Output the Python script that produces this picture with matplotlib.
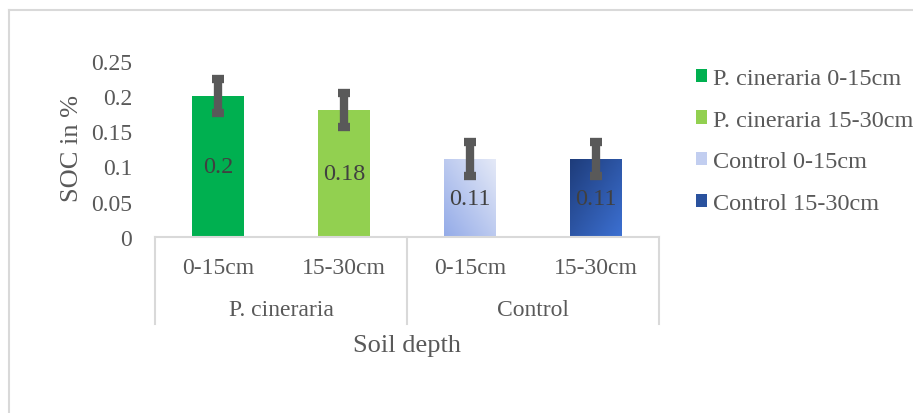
import numpy as np
import matplotlib
matplotlib.use('Agg')
import matplotlib.pyplot as plt
from matplotlib.patches import Patch
from matplotlib.lines import Line2D
from matplotlib.colors import LinearSegmentedColormap

groups = ['P. cineraria', 'Control']
depths = ['0-15cm', '15-30cm', '0-15cm', '15-30cm']
series = ['P. cineraria 0-15cm', 'P. cineraria 15-30cm', 'Control 0-15cm', 'Control 15-30cm']
soc = [0.2, 0.18, 0.11, 0.11]
err = [0.024, 0.024, 0.024, 0.024]
yticks = [0, 0.05, 0.1, 0.15, 0.2, 0.25]
ytick_labels = ['0', '0.05', '0.1', '0.15', '0.2', '0.25']

plt.rcParams['font.family'] = ['Liberation Serif', 'DejaVu Serif']
gray = '#595959'
line_gray = '#D9D9D9'
fs = 17

W, H = 913, 414
fig = plt.figure(figsize=(W / 100, H / 100), dpi=100)
ax_l, ax_r, ax_t, ax_b = 155, 659, 61.5, 238
ax = fig.add_axes([ax_l / W, 1 - ax_b / H, (ax_r - ax_l) / W, (ax_b - ax_t) / H])
ax_h = ax_b - ax_t

x = np.arange(len(soc))
# solid colours; gradient (dark/saturated end, light end) for the control bars
fills = ['#00B050', '#92D050', ('#94ABE8', '#E4E9F7'), ('#1E3C7A', '#3C70D2')]
legend_cols = ['#00B050', '#92D050', '#C2CEF0', '#2A529E']

bars = ax.bar(x, soc, width=0.41, color=[f if isinstance(f, str) else 'none' for f in fills],
              zorder=2)
gx, gy = np.meshgrid(np.linspace(0, 1, 64), np.linspace(0, 1, 64))
grad = (gx + gy) / 2
for i, (b, f) in enumerate(zip(bars, fills)):
    if isinstance(f, tuple):
        cmap = LinearSegmentedColormap.from_list('g', list(f))
        bx, by = b.get_x(), b.get_y()
        # control 0-15: bottom-left -> top-right; control 15-30: top-left -> bottom-right
        im = ax.imshow(grad, cmap=cmap, origin='lower' if i == 2 else 'upper',
                       extent=[bx, bx + b.get_width(), by, by + b.get_height()],
                       aspect='auto', zorder=2)
        im.set_clip_path(b)

ax.errorbar(x, soc, yerr=err, fmt='none', ecolor=gray, elinewidth=6,
            capsize=4.3, capthick=6, zorder=3, clip_on=False)

for xi, v in zip(x, soc):
    ax.text(xi, v / 2, f'{v:g}', ha='center', va='center', fontsize=17.5,
            color='#404040', zorder=4)

ax.set_xlim(-0.5, 3.5)
ax.set_ylim(0, 0.25)
ax.set_yticks(yticks)
ax.set_yticklabels(ytick_labels)
ax.tick_params(axis='y', length=0, pad=16.5, labelsize=fs, labelcolor=gray)
ax.set_xticks([])
for s in ['top', 'right', 'left']:
    ax.spines[s].set_visible(False)
ax.spines['bottom'].set_color(line_gray)
ax.spines['bottom'].set_linewidth(1.5)

# multi-level category axis
box_depth = 87 / ax_h
for xv in [-0.5, 1.5, 3.5]:
    ax.plot([xv, xv], [0, -box_depth], color=line_gray, lw=1.5,
            transform=ax.get_xaxis_transform(), clip_on=False)
for xi, d in zip(x, depths):
    ax.annotate(d, xy=(xi, 0), xycoords=('data', 'axes fraction'),
                xytext=(0, -30), textcoords='offset pixels',
                ha='center', va='center', fontsize=fs, color=gray)
for gi, g in enumerate(groups):
    ax.annotate(g, xy=(gi * 2 + 0.5, 0), xycoords=('data', 'axes fraction'),
                xytext=(0, -72), textcoords='offset pixels',
                ha='center', va='center', fontsize=fs, color=gray)
ax.annotate('Soil depth', xy=(1.5, 0), xycoords=('data', 'axes fraction'),
            xytext=(0, -108), textcoords='offset pixels',
            ha='center', va='center', fontsize=19, color=gray)

fig.text(72 / W, 1 - 148 / H, 'SOC in %', rotation=90, ha='center', va='center',
         fontsize=19, color=gray)

handles = [Patch(facecolor=c, edgecolor='none') for c in legend_cols]
fig.legend(handles, series, loc='upper left', bbox_to_anchor=(696 / W, 1 - 69 / H),
           frameon=False, fontsize=17.5, labelcolor=gray, handlelength=0.45,
           handleheight=0.45, handletextpad=0.25, labelspacing=0.85,
           borderaxespad=0, borderpad=0)

# outer chart border (left and top visible)
fig.add_artist(Line2D([9 / W, 9 / W], [0, 1 - 11 / H], color=line_gray, lw=1.5,
                      transform=fig.transFigure))
fig.add_artist(Line2D([9 / W, 1], [1 - 11 / H, 1 - 11 / H], color=line_gray, lw=1.5,
                      transform=fig.transFigure))

fig.savefig('out.png', dpi=100)
